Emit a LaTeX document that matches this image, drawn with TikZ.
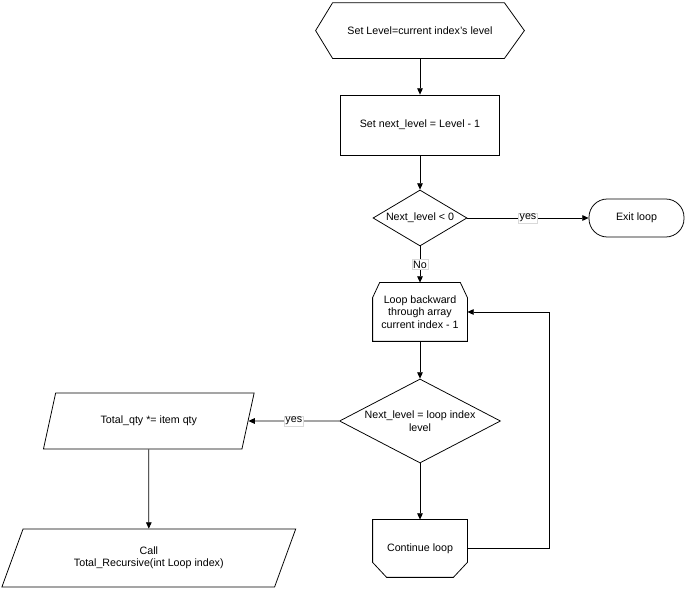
\documentclass[tikz,border=0pt]{standalone}
\usepackage{fontspec}
\setmainfont{Liberation Sans}
\usepackage{tikz}
\usetikzlibrary{
    positioning,
    arrows.meta,
    shapes.geometric,
    calc
}

\begin{document}
\begin{tikzpicture}[font=\fontsize{7.6}{8.8}\selectfont, line width=0.55pt,
    plain/.style={minimum width=2.35cm, align=center, inner sep=1pt},
    bbox/.style={draw, minimum width=3.975cm, minimum height=1.5cm, align=center},
    decision/.style={draw, diamond, aspect=2, inner sep=0pt, align=center},
    io/.style={draw, trapezium, trapezium left angle=63, trapezium right angle=117,
               trapezium stretches=true, align=center, inner sep=1pt},
    term/.style={draw, rounded corners=13pt, minimum width=2.375cm, minimum height=0.95cm},
    arr/.style={-{Triangle[length=4.5pt,width=4pt]}},
    lab/.style={fill=white, draw=black!15, line width=0.3pt, inner sep=0.8pt}]

    \useasboundingbox (0,0) rectangle (17.175,14.725);

    % ============ CENTER COLUMN ============
    \node[plain, minimum width=5.2cm, minimum height=1.375cm] (SL) at (10.5, 13.96)
      {Set Level=current index's level};
    \draw (SL.west) -- ($(SL.north west)+(0.425,0)$) -- ($(SL.north east)+(-0.5,0)$)
      -- (SL.east) -- ($(SL.south east)+(-0.5,0)$) -- ($(SL.south west)+(0.425,0)$) -- cycle;

    \node[bbox] (SN) at (10.5, 11.6) {Set next\_level = Level - 1};

    \node[decision, minimum width=2.35cm, minimum height=1.4cm] (D1) at (10.5, 9.275)
      {Next\_level {<} 0};
    \node[term] (EX) at (15.9125, 9.275) {Exit loop};

    \node[plain, minimum height=1.45cm] (LB) at (10.5, 6.925)
      {Loop backward\\through array\\current index - 1};
    \draw (LB.south west) -- (LB.south east) -- ($(LB.north east)+(0,-0.375)$)
      -- ($(LB.north east)+(-0.175,0)$) -- ($(LB.north west)+(0.175,0)$)
      -- ($(LB.north west)+(0,-0.375)$) -- cycle;

    \node[decision, minimum width=4.025cm, minimum height=2.1cm] (D2) at (10.5, 4.2)
      {Next\_level = loop index\\level};

    \node[plain, minimum height=1.425cm] (CL) at (10.5, 1.0125) {Continue loop};
    \draw (CL.north west) -- (CL.north east) -- ($(CL.south east)+(0,0.375)$)
      -- ($(CL.south east)+(-0.35,0)$) -- ($(CL.south west)+(0.35,0)$)
      -- ($(CL.south west)+(0,0.375)$) -- cycle;

    % ============ LEFT COLUMN ============
    \node[io, minimum width=5.275cm, minimum height=1.4cm] (TQ) at (3.72, 4.2)
      {Total\_qty *= item qty};
    \node[io, minimum width=7.35cm, minimum height=1.45cm] (CR) at (3.72, 0.775)
      {Call\\Total\_Recursive(int Loop index)};

    % connectors
    \draw[arr] (SL.south) -- (SN.north);
    \draw[arr] (SN.south) -- (D1.north);
    \draw[arr] (D1.east) -- node[lab]{yes} (EX.west);
    \draw[arr] (D1.south) -- node[lab]{No} (LB.north);
    \draw[arr] (LB.south) -- (D2.north);
    \draw[arr] (D2.west) -- node[lab]{yes} (TQ.east);
    \draw[arr] (D2.south) -- (CL.north);
    \draw[arr] (TQ.south) -- (CR.north);
    \draw[arr] (CL.east) -- ++(2.05,0) |- (LB.east);

\end{tikzpicture}
\end{document}
